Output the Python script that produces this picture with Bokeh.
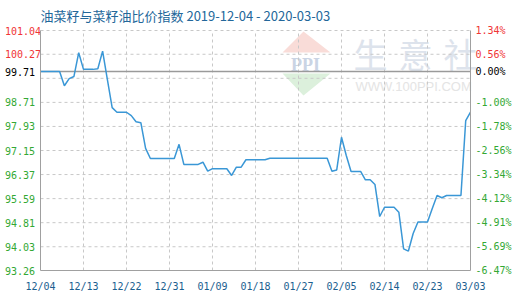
from bokeh.plotting import figure
from bokeh.models import Range1d, FixedTicker, LinearAxis
from bokeh.core.properties import value
from bokeh.embed import file_html
from bokeh.resources import INLINE

# Rapeseed / rapeseed-oil price ratio index, one value per calendar day from 2019-12-04
index_values = [
    99.71, 99.71, 99.71, 99.71, 99.71, 99.25, 99.48, 99.55, 100.32, 99.78,
    99.78, 99.78, 99.80, 100.37, 99.45, 98.54, 98.39, 98.39, 98.39, 98.28,
    98.08, 98.05, 97.22, 96.89, 96.89, 96.89, 96.89, 96.89, 96.89, 97.35,
    96.70, 96.70, 96.70, 96.70, 96.77, 96.48, 96.56, 96.56, 96.56, 96.56,
    96.34, 96.61, 96.61, 96.85, 96.85, 96.85, 96.85, 96.85, 96.90, 96.90,
    96.90, 96.90, 96.90, 96.90, 96.90, 96.90, 96.90, 96.90, 96.90, 96.90,
    96.90, 96.48, 96.52, 97.58, 96.99, 96.47, 96.47, 96.47, 96.20, 96.20,
    96.05, 95.01, 95.31, 95.31, 95.31, 95.15, 93.96, 93.89, 94.46, 94.83,
    94.83, 94.83, 95.27, 95.69, 95.62, 95.69, 95.69, 95.69, 95.69, 98.12,
    98.39,
]
day_index = list(range(len(index_values)))

# x axis: one label every 9 days
x_tick_days = [0, 9, 18, 27, 36, 45, 54, 63, 72, 81, 90]
x_tick_labels = ["12/04", "12/13", "12/22", "12/31", "01/09", "01/18",
                 "01/27", "02/05", "02/14", "02/23", "03/03"]

# y axis: price levels on the left, change vs. the base value on the right
base_value = 99.71
y_tick_values = [101.04, 100.27, 99.71, 98.71, 97.93, 97.15, 96.37, 95.59, 94.81, 94.03, 93.26]
y_tick_labels = ["101.04", "100.27", "99.71", "98.71", "97.93", "97.15",
                 "96.37", "95.59", "94.81", "94.03", "93.26"]
pct_tick_labels = ["1.34%", "0.56%", "0.00%", "-1.00%", "-1.78%", "-2.56%",
                   "-3.34%", "-4.12%", "-4.91%", "-5.69%", "-6.47%"]
y_grid_values = [101.04, 100.27, 99.49, 98.71, 97.93, 97.15, 96.37, 95.59, 94.81, 94.03]

title_text = "油菜籽与菜籽油比价指数 2019-12-04 - 2020-03-03"

RED, GREEN, BLACK = "#f03535", "#33a833", "#000000"
AXIS_GRAY = "#a0a0a0"
GRID_GRAY = "#c8c8c8"
MONO = value("DejaVu Sans Mono")

# canvas size and the pixel box of the plotting area
W, H = 520, 300
PX_L, PX_R, PX_T, PX_B = 40, 470, 30, 270
X0, X1 = x_tick_days[0], x_tick_days[-1]
Y0, Y1 = min(y_tick_values), max(y_tick_values)
kx = (PX_R - PX_L) / (X1 - X0)
ky = (PX_B - PX_T) / (Y1 - Y0)


def sx(px):
    """canvas pixel column -> data x"""
    return X0 + (px - PX_L) / kx


def sy(py):
    """canvas pixel row -> data y"""
    return Y1 - (py - PX_T) / ky


def label_color(v):
    if abs(v - base_value) < 1e-9:
        return BLACK
    return RED if v > base_value else GREEN


# the frame covers the whole canvas so that side labels are never clipped
p = figure(width=W, height=H, title=None,
           x_range=Range1d(sx(0), sx(W)), y_range=Range1d(sy(H), sy(0)),
           x_axis_location=None, y_axis_location=None,
           min_border=0, min_border_left=0, min_border_right=0,
           min_border_top=0, min_border_bottom=0,
           output_backend="svg", toolbar_location=None,
           background_fill_color="white", border_fill_color="white")
p.outline_line_color = None
p.xgrid.visible = False
p.ygrid.visible = False

# faint brand mark behind everything
p.patch([sx(282), sx(303), sx(330)], [sy(52), sy(31), sy(52)],
        fill_color="#f9dcd8", line_color=None)
p.patch([sx(282), sx(330), sx(303)], [sy(73), sy(73), sy(95)],
        fill_color="#dcf0dc", line_color=None)
p.text([sx(305)], [sy(64)], text=["PPI"], text_font=value("Liberation Serif"),
       text_font_size="18px", text_font_style="bold", text_color="#cad4e4",
       text_align="center", text_baseline="middle")
p.text([sx(370), sx(415), sx(460)], [sy(53)] * 3, text=["生", "意", "社"],
       text_font=value("Noto Sans CJK SC"), text_font_size="34px", text_color="#dde3ec",
       text_align="center", text_baseline="middle")
p.text([sx(355)], [sy(86)], text=["WWW.100PPI.COM"], text_font=value("Liberation Sans"),
       text_font_size="13px", text_color="#e4e4e4", text_align="left", text_baseline="middle")

# dashed grid inside the plotting area
p.segment(x0=X0, x1=X1, y0=y_grid_values, y1=y_grid_values,
          line_color=GRID_GRAY, line_dash="3 3", line_width=1)
inner_days = x_tick_days[1:-1]
p.segment(x0=inner_days, x1=inner_days, y0=Y0, y1=Y1,
          line_color=GRID_GRAY, line_dash="3 3", line_width=1)

# base reference line
p.segment(x0=[X0], x1=[X1], y0=[base_value], y1=[base_value],
          line_color="#9a9a9a", line_width=1.5)

# index series
p.line(day_index, index_values, line_color="#3a97d6", line_width=1.5)

# axes pinned to the plotting area
bottom = LinearAxis(fixed_location=Y0, bounds=(X0, X1),
                    ticker=FixedTicker(ticks=x_tick_days),
                    major_label_overrides={d: t for d, t in zip(x_tick_days, x_tick_labels)},
                    major_label_text_font="DejaVu Sans Mono",
                    major_label_text_font_size="10px",
                    major_label_text_color="#1b5e8f",
                    major_label_standoff=10,
                    axis_line_color=AXIS_GRAY,
                    major_tick_in=0, major_tick_out=0,
                    minor_tick_in=0, minor_tick_out=0)
p.add_layout(bottom, "below")
for loc, side in ((X0, "left"), (X1, "right")):
    ax = LinearAxis(fixed_location=loc, bounds=(Y0, Y1),
                    ticker=FixedTicker(ticks=[]),
                    axis_line_color=AXIS_GRAY,
                    major_tick_in=0, major_tick_out=0,
                    minor_tick_in=0, minor_tick_out=0)
    p.add_layout(ax, side)

# coloured tick labels: price on the left, percentage change on the right
colors = [label_color(v) for v in y_tick_values]
p.text([sx(4.5)] * len(y_tick_values), y_tick_values, text=y_tick_labels,
       text_color=colors, text_font=MONO, text_font_size="10px",
       text_align="left", text_baseline="middle")
p.text([sx(475)] * len(y_tick_values), y_tick_values, text=pct_tick_labels,
       text_color=colors, text_font=MONO, text_font_size="10px",
       text_align="left", text_baseline="middle")

# title
p.text([sx(40)], [sy(14.5)], text=[title_text], text_font=value("Noto Sans CJK SC"),
       text_font_size="13px", text_color="#23679a",
       text_align="left", text_baseline="middle")

open("out.html", "w").write(file_html(p, INLINE))
